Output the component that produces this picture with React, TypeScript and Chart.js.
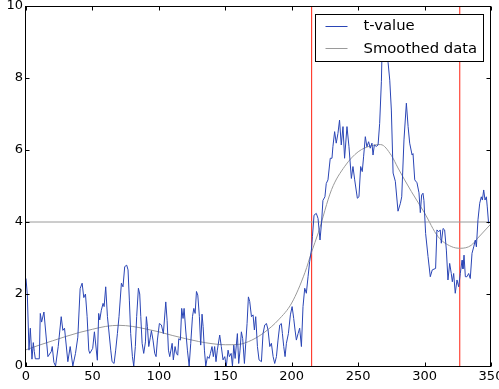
import React, { useEffect, useRef } from "react";
import { Chart, registerables } from "chart.js";

Chart.register(...registerables);

const X_MIN = 0;
const X_MAX = 350;
const Y_MIN = 0;
const Y_MAX = 10;
const X_TICKS = [0, 50, 100, 150, 200, 250, 300, 350];
const Y_TICKS = [0, 2, 4, 6, 8, 10];

const LEGEND_LABELS = ["t-value", "Smoothed data"];

// t-value series (x positions, values)
const tX = [
  0, 1, 2.25, 3.25, 4.5, 5.5, 6.25, 7, 10, 10.75, 11.75, 13.5, 16.5, 19, 19.75, 21, 22.25, 24.25, 26.5, 27.75,
  29, 31.5, 33.25, 35.25, 37.25, 39, 40.75, 42.25, 43.5, 44.75, 46, 47.25,
  48, 50.2, 51.5, 53.7, 54.7, 55.5, 56.7, 58, 58.8, 60, 61.3, 62.3, 63.8, 64.8, 66.3, 67.5, 68.8, 70,
  71.8, 73, 74.3, 75.8, 76.8, 77.8, 78.8, 80.1, 81.1, 82.3, 83.3, 84.6, 85.6, 86.4, 87.4, 88.6, 89.9, 90.6,
  91.4, 92.4, 93.6, 94.4, 95.6, 96.9, 97.9, 98.9, 100.4, 101.9, 103.4, 105.2, 106.2, 107.2, 108.2, 110, 110.9,
  112.2, 113.2, 114.2, 115, 116.2, 117.2, 118.2, 119, 120.2, 121.5, 122.8, 124, 125.3, 126.3, 127.3, 128.3,
  129.3, 130.5, 131.5, 132.5, 133.3, 134.3, 135.3, 136.6, 137.8, 138.8, 140, 141, 142, 143, 144, 145.8, 147,
  148.3, 149.6, 150.8, 152.1, 153.1, 154.4, 155.4, 156.4, 157.4, 159.1, 160.1, 161.1, 162.1, 163.1, 164.4,
  165.4, 166.4, 167.4,
  168.4, 169.7, 170.9, 171.9, 172.9, 174.2, 175.4, 177.2, 178.4, 179.7, 181, 182.2, 183.5, 184.7, 186, 187.2,
  188.5, 189.7, 191, 192.2, 193, 194, 195, 196, 197.5, 199, 200.3, 201.5, 202.5, 203.5, 204.8, 206, 207.3,
  208.5, 209.8, 211, 212.3, 213.5, 214.8, 215.6, 216.8, 218.5, 219.8, 221.3, 222.5, 223.5, 225, 226, 227.3,
  229, 230.3, 231, 232.3, 233.5, 234.8, 236, 237.3, 238.6, 239.8, 241.6, 243.1, 244.9, 246.1, 247.4, 249.4,
  250.6, 251.9, 253.1, 254.1, 255.4, 256.6, 257.9, 259.1, 260.4, 261.2, 262.2, 263.7, 265, 266.2, 267.5,
  268.2, 269.3, 270.5, 272.5, 273.8, 275, 276.3, 278, 280, 281.8, 282.8, 284.5, 286.3, 287.6, 288.8, 290.6,
  291.3, 292.6, 294.3, 295.8, 296.8, 297.8, 298.8, 299.5, 300.8, 302.6, 304.3, 305.8, 308.3, 309.3, 310.6,
  311.8, 312.6, 313.9, 315.1, 316.4, 317.6, 318.9, 320.1, 320.9, 321.9, 323.1, 324.4, 325.7, 326.9, 328.2,
  328.9, 329.7, 330.7, 331.9, 333.2, 334.4, 335.7, 337, 338.2, 339, 340.2, 341.5, 342.7, 343.5, 344.5, 345.5,
  346.5, 347.2, 348.2,
];
const tY = [
  2.43, 1.97, 0.44, 1.05, 0.19, 0.65, 0.4, 0.2, 0.2, 1.46, 1.22, 1.5, 0.26, 0.4, 0.54, 0.1, 0.0, 0.54, 1.37, 0.99,
  1.05, 0.12, 0.54, 0.0, 0.35, 0.8, 2.15, 2.3, 1.9, 2.0, 1.37, 0.44,
  0.35, 0.49, 0.95, 0.16, 1.46, 1.28, 1.55, 1.74, 1.65, 2.2, 1.37, 1.0, 0.44, 0.12, 0.07, 0.44, 0.9, 1.37,
  2.3, 2.2, 2.76, 2.8, 2.67, 1.83, 0.9, 0.26, 0.0, 0.54, 1.37, 2.16, 2.0, 1.37, 0.63, 0.35, 0.67, 1.37,
  1.09, 0.54, 0.8, 0.98, 0.72, 0.35, 0.26, 0.72, 1.18, 1.14, 0.9, 1.78, 1.27, 0.44, 0.26, 0.63, 0.17,
  0.54, 0.35, 0.3, 0.76, 0.72, 1.6, 1.32, 1.6, 1.0, 0.44, 0.0, 0.63, 1.37, 1.6, 1.46, 2.07,
  1.97, 1.37, 0.58, 1.44, 1.1, 0.44, 0.0, 0.26, 0.21, 0.35, 0.54, 0.26, 0.54, 0.12, 0.44, 0.86, 0.54,
  0.17, 0.26, 0.0, 0.44, 0.26, 0.35, 0.0, 0.58, 0.21, 0.9, 0.07, 0.44, 0.95, 0.76, 0.07,
  0.63, 1.18, 1.92,
  1.79, 1.37, 1.42, 1.0, 1.37, 0.54, 0.17, 0.12, 0.9, 1.14, 1.18, 1.0, 0.54, 0.63, 0.26, 0.07,
  0.26, 0.72, 1.14, 1.18, 0.9, 0.54, 0.26, 0.63, 0.9, 1.42, 1.65, 1.32, 1.0, 0.72, 0.9, 1.05, 0.54,
  1.65, 2.16, 2.02, 2.48, 2.9, 3.22, 3.6, 4.19, 4.24, 4.1, 3.5, 4.0, 4.6, 4.7, 5.07, 5.17,
  5.77, 5.77, 6.09, 6.51, 6.19, 6.46, 6.83, 6.14, 6.65, 5.77, 6.65, 6.09, 5.21, 5.54, 5.17, 4.66,
  4.7, 5.54, 5.4, 5.81, 6.37, 6.09, 6.23, 6.05, 6.19, 5.86, 6.14, 6.1, 6.14, 6.74, 7.91,
  9.1, 9.6, 9.4, 8.44, 7.94, 7.11, 5.36, 5.13, 4.3, 4.52, 4.7, 6.28, 7.3, 6.65, 6.19, 5.86,
  5.9, 5.17, 5.09, 4.81, 4.26, 4.75, 4.8, 4.6, 3.68, 3.04, 2.48, 2.67, 2.71, 3.78, 3.73,
  3.78, 3.41, 3.82, 3.78, 3.22, 2.39, 2.85, 2.57, 2.34, 2.57, 2.02, 2.39, 2.2, 2.57, 2.94,
  2.7, 3.08, 2.48, 2.48, 2.57, 2.43, 3.13, 3.31, 3.5, 3.31, 4.06, 4.52, 4.7, 4.61, 4.89, 4.61,
  4.7, 4.42, 3.96,
];

// smoothed series
const smoothX = [0, 10, 20, 30, 40, 50, 60, 70, 80, 90, 100, 110, 120, 130, 140, 150, 160, 170, 180, 190, 200, 210, 215, 220, 230, 240, 250, 260, 267, 275, 280, 290, 300, 310, 320, 327, 335, 340, 350];
const smoothY = [0.45, 0.58, 0.7, 0.82, 0.93, 1.02, 1.1, 1.13, 1.1, 1.03, 0.95, 0.85, 0.76, 0.68, 0.62, 0.59, 0.6, 0.72, 0.95, 1.28, 1.75, 2.6, 3.17, 3.7, 4.9, 5.55, 5.95, 6.12, 6.15, 5.85, 5.5, 4.85, 4.25, 3.6, 3.32, 3.27, 3.35, 3.55, 3.95];

const THRESHOLD = 4;
const CHANGE_POINTS = [215, 326.5];

const BLUE = "#2a45b5";
const GRAY = "#9a9a9a";
const RED = "#ff2010";
const FONT = "'DejaVu Sans', 'Bitstream Vera Sans', sans-serif";
const TICK_SIZE = 13;
const LEGEND_SIZE = 14.8;

const mplPlugin = {
  id: "mplFrame",
  afterDatasetsDraw(chart: any) {
    const { ctx, chartArea: a, scales } = chart;
    const x = scales.x;
    const y = scales.y;
    ctx.save();
    ctx.strokeStyle = "#000";
    ctx.lineWidth = 1;
    const L = Math.round(a.left) - 0.5;
    const R = Math.round(a.right) - 0.5;
    const T = Math.round(a.top) + 0.5;
    const B = Math.round(a.bottom) + 0.5;
    ctx.strokeRect(L, T, R - L, B - T);
    ctx.beginPath();
    for (const v of X_TICKS) {
      const px = Math.round(x.getPixelForValue(v)) + 0.5;
      ctx.moveTo(px, B);
      ctx.lineTo(px, B - 4);
      ctx.moveTo(px, T);
      ctx.lineTo(px, T + 4);
    }
    for (const v of Y_TICKS) {
      const py = Math.round(y.getPixelForValue(v)) + 0.5;
      ctx.moveTo(L, py);
      ctx.lineTo(L + 4, py);
      ctx.moveTo(R, py);
      ctx.lineTo(R - 4, py);
    }
    ctx.stroke();

    // legend (matplotlib style box)
    ctx.font = `${LEGEND_SIZE}px ${FONT}`;
    const textW = Math.max(...LEGEND_LABELS.map((s) => ctx.measureText(s).width));
    const padL = 10;
    const lineLen = 22;
    const gap = 16;
    const padR = 6.5;
    const boxW = padL + lineLen + gap + textW + padR;
    const boxH = 47;
    const boxR = R - 7;
    const boxL = Math.round(boxR - boxW) + 0.5;
    const boxT = T + 8;
    ctx.fillStyle = "#fff";
    ctx.fillRect(boxL, boxT, boxR - boxL, boxH);
    ctx.strokeStyle = "#000";
    ctx.strokeRect(boxL, boxT, boxR - boxL, boxH);
    const colors = [chart.data.datasets[0].borderColor, chart.data.datasets[1].borderColor];
    const rowY = [boxT + 11.5, boxT + 33.8];
    LEGEND_LABELS.forEach((label, i) => {
      ctx.strokeStyle = colors[i];
      ctx.beginPath();
      ctx.moveTo(boxL + padL, Math.round(rowY[i]) + 0.5);
      ctx.lineTo(boxL + padL + lineLen, Math.round(rowY[i]) + 0.5);
      ctx.stroke();
      ctx.fillStyle = "#000";
      ctx.textBaseline = "middle";
      ctx.textAlign = "left";
      ctx.fillText(label, boxL + padL + lineLen + gap, rowY[i] + 0.5);
    });
    ctx.restore();
  },
};

export default function App() {
  const ref = useRef<HTMLCanvasElement | null>(null);
  useEffect(() => {
    if (!ref.current) return;
    const tData = tX.map((xv, i) => ({ x: xv, y: tY[i] }));
    const sData = smoothX.map((xv, i) => ({ x: xv, y: smoothY[i] }));
    const chart = new Chart(ref.current, {
      type: "line",
      data: {
        datasets: [
          { label: LEGEND_LABELS[0], data: tData, borderColor: BLUE, borderWidth: 1, pointRadius: 0, tension: 0, fill: false },
          { label: LEGEND_LABELS[1], data: sData, borderColor: GRAY, borderWidth: 1, pointRadius: 0, cubicInterpolationMode: "monotone", fill: false },
          { label: "threshold", data: [{ x: X_MIN, y: THRESHOLD }, { x: X_MAX, y: THRESHOLD }], borderColor: GRAY, borderWidth: 1, pointRadius: 0, fill: false },
          ...CHANGE_POINTS.map((c) => ({
            label: "change",
            data: [{ x: c, y: Y_MIN }, { x: c, y: Y_MAX }],
            borderColor: RED,
            borderWidth: 1,
            pointRadius: 0,
            fill: false,
          })),
        ],
      },
      options: {
        responsive: false,
        animation: false,
        devicePixelRatio: 1,
        layout: { padding: { top: 6, right: 8, left: 0, bottom: 0 } },
        plugins: { legend: { display: false }, tooltip: { enabled: false } },
        scales: {
          x: {
            type: "linear",
            min: X_MIN,
            max: X_MAX,
            grid: { display: false, drawTicks: false },
            border: { display: false },
            afterBuildTicks: (s: any) => {
              s.ticks = X_TICKS.map((v) => ({ value: v }));
            },
            afterFit: (s: any) => {
              s.height = 23;
              s.paddingLeft = 0;
              s.paddingRight = 0;
            },
            ticks: { color: "#000", font: { family: FONT, size: TICK_SIZE }, padding: 3, maxRotation: 0, autoSkip: false },
          },
          y: {
            type: "linear",
            min: Y_MIN,
            max: Y_MAX,
            grid: { display: false, drawTicks: false },
            border: { display: false },
            afterBuildTicks: (s: any) => {
              s.ticks = Y_TICKS.map((v) => ({ value: v }));
            },
            afterFit: (s: any) => {
              s.width = 26;
              s.paddingTop = 0;
              s.paddingBottom = 0;
            },
            ticks: { color: "#000", font: { family: FONT, size: TICK_SIZE }, padding: 3, autoSkip: false },
          },
        },
      },
      plugins: [mplPlugin],
    });
    return () => chart.destroy();
  }, []);
  return (
    <div style={{ position: "fixed", left: 0, top: 0, width: 499, height: 389, background: "#fff" }}>
      <canvas ref={ref} width={499} height={389} style={{ width: 499, height: 389, display: "block" }} />
    </div>
  );
}
